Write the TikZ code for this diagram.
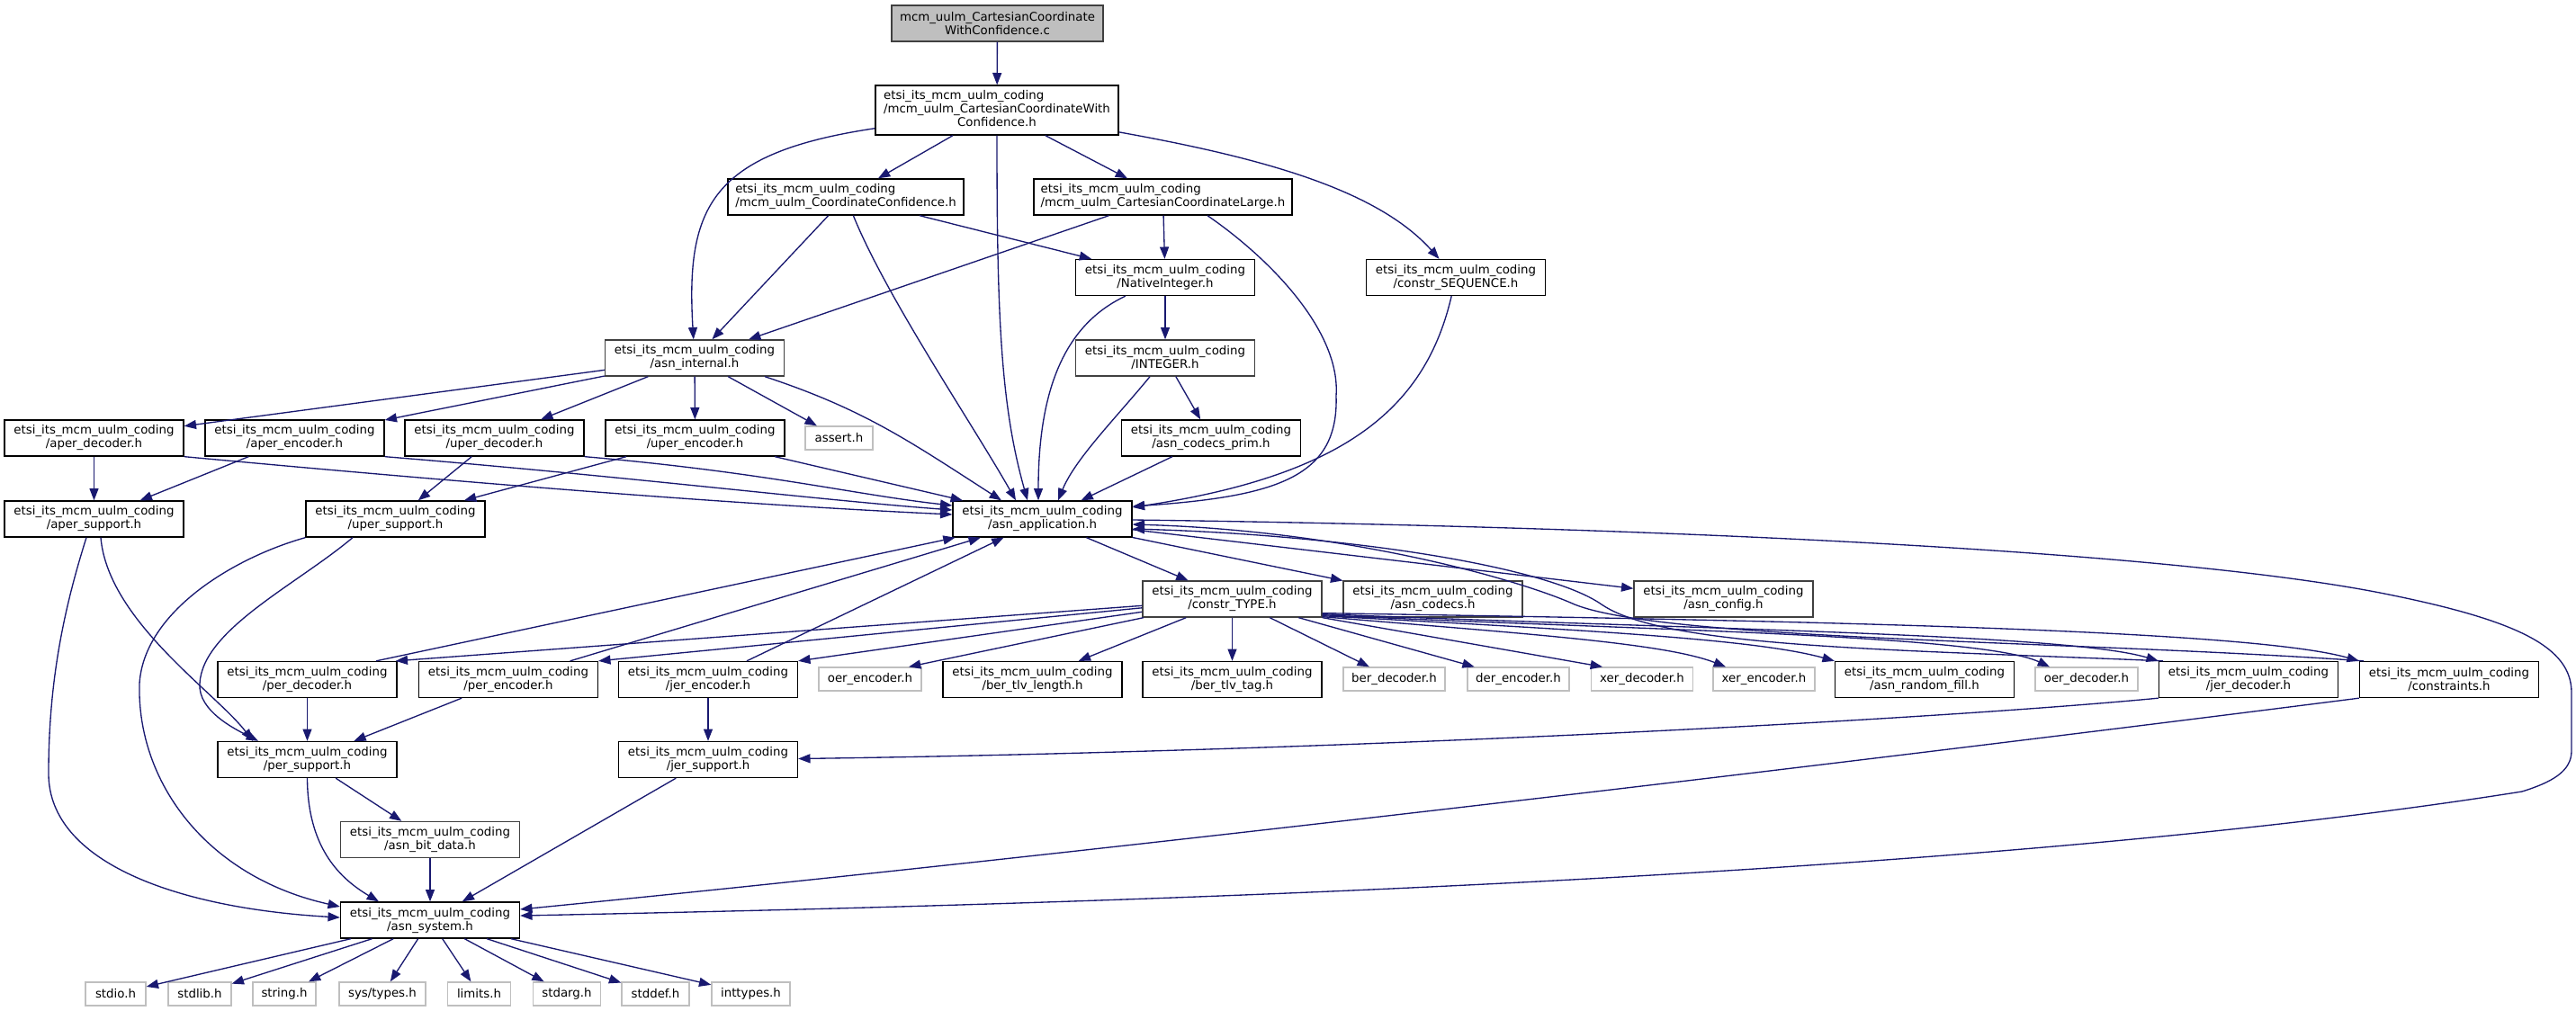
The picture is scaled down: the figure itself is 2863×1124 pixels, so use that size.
\documentclass[tikz,border=0pt]{standalone}
\usepackage{fontspec}
\setmainfont{DejaVu Sans}
\usetikzlibrary{arrows.meta}
\definecolor{edgeblue}{HTML}{191970}
\definecolor{greyL}{HTML}{BFBFBF}
\definecolor{greyD}{HTML}{404040}
\newcommand\nodefont{\fontsize{10}{11.25}\selectfont}
\newcommand\E{etsi\_its\_mcm\_uulm\_coding}
\tikzset{
  boxbase/.style={draw=black, fill=white, line width=1pt, inner sep=0pt, font=\nodefont,
    minimum height=30pt, minimum width=149.25pt},
  box/.style={boxbase, align=center},
  boxl/.style={boxbase, align=left},
  ext/.style={draw=greyL, fill=white, line width=1pt, inner sep=0pt, font=\nodefont,
    minimum height=19.5pt, minimum width=#1*0.75pt},
  e/.style={draw=edgeblue, line width=1pt, -{Triangle[length=10pt,width=7.5pt]}}
}
\begin{document}
\begin{tikzpicture}[x=0.75pt, y=-0.75pt]
\fill[white] (0,0) rectangle (2863,1124);
\useasboundingbox (0,0) rectangle (2863,1124);

% ---------- nodes ----------
\node[box, fill=greyL, draw=greyD, minimum width=176.25pt] (c) at (1108.5,26) {mcm\_uulm\_CartesianCoordinate\\WithConfidence.c};
\node[boxbase, minimum width=202.5pt, minimum height=41.25pt] (ccwc) at (1108,122.5)
  {\begin{tabular}{@{}l@{}}\E\\/mcm\_uulm\_CartesianCoordinateWith\\\multicolumn{1}{@{}c@{}}{Confidence.h}\end{tabular}};
\node[boxl, minimum width=196.5pt] (cconf) at (940,219) {\E\\/mcm\_uulm\_CoordinateConfidence.h};
\node[boxl, minimum width=215.25pt] (ccl) at (1292.5,219) {\E\\/mcm\_uulm\_CartesianCoordinateLarge.h};
\node[box] (nint) at (1295,308.5) {\E\\/NativeInteger.h};
\node[box] (cseq) at (1618,308.5) {\E\\/constr\_SEQUENCE.h};
\node[box, draw=greyD] (integer) at (1295,398) {\E\\/INTEGER.h};
\node[box, draw=greyD] (internal) at (772,398) {\E\\/asn\_internal.h};

\node[box] (aperdec) at (104.5,487) {\E\\/aper\_decoder.h};
\node[box] (aperenc) at (327.5,487) {\E\\/aper\_encoder.h};
\node[box] (uperdec) at (549.5,487) {\E\\/uper\_decoder.h};
\node[box] (uperenc) at (772.5,487) {\E\\/uper\_encoder.h};
\node[ext=75] (assert) at (932.5,487) {assert.h};
\node[box] (prim) at (1346,487) {\E\\/asn\_codecs\_prim.h};

\node[box] (apersup) at (104.5,577) {\E\\/aper\_support.h};
\node[box] (upersup) at (439.5,577) {\E\\/uper\_support.h};
\node[box] (app) at (1158.5,577) {\E\\/asn\_application.h};

\node[box, draw=greyD] (ctype) at (1369.5,666) {\E\\/constr\_TYPE.h};
\node[box, draw=greyD] (codecs) at (1592.5,666) {\E\\/asn\_codecs.h};
\node[box, draw=greyD] (config) at (1915.5,666) {\E\\/asn\_config.h};

\node[box] (perdec) at (341.5,755.5) {\E\\/per\_decoder.h};
\node[box] (perenc) at (565,755.5) {\E\\/per\_encoder.h};
\node[box] (jerenc) at (787,755.5) {\E\\/jer\_encoder.h};
\node[ext=114] (oerenc) at (967,755) {oer\_encoder.h};
\node[box] (bertlvlen) at (1147.5,755.5) {\E\\/ber\_tlv\_length.h};
\node[box] (bertlvtag) at (1369.5,755.5) {\E\\/ber\_tlv\_tag.h};
\node[ext=113] (berdec) at (1549.5,755) {ber\_decoder.h};
\node[ext=113] (derenc) at (1687.5,755) {der\_encoder.h};
\node[ext=113] (xerdec) at (1825,755) {xer\_decoder.h};
\node[ext=113] (xerenc) at (1960.5,755) {xer\_encoder.h};
\node[box] (randfill) at (2139,755.5) {\E\\/asn\_random\_fill.h};
\node[ext=114] (oerdec) at (2319,755) {oer\_decoder.h};
\node[box] (jerdec) at (2499,755.5) {\E\\/jer\_decoder.h};
\node[box] (constraints) at (2722,755.5) {\E\\/constraints.h};

\node[box] (persup) at (341.5,844.5) {\E\\/per\_support.h};
\node[box] (jersup) at (787,844.5) {\E\\/jer\_support.h};
\node[box, draw=greyD] (bitdata) at (478,933.5) {\E\\/asn\_bit\_data.h};
\node[box] (system) at (478,1023) {\E\\/asn\_system.h};

\node[ext=67] (stdio) at (128.5,1105) {stdio.h};
\node[ext=70] (stdlib) at (222,1105) {stdlib.h};
\node[ext=70] (string) at (316,1105) {string.h};
\node[ext=96] (systypes) at (425,1105) {sys/types.h};
\node[ext=70] (limits) at (532.5,1105) {limits.h};
\node[ext=75] (stdarg) at (630,1105) {stdarg.h};
\node[ext=75] (stddef) at (728.5,1105) {stddef.h};
\node[ext=87] (inttypes) at (834.5,1105) {inttypes.h};

% ---------- edges ----------
\draw[e] (c) -- (ccwc);
\draw[e] (ccwc) .. controls (790,170) and (762,230) .. (internal);
\draw[e] (ccwc) -- (cconf);
\draw[e] (ccwc.south) .. controls (1108,350) and (1112,450) .. ([shift={(-16.5,0)}]app.north);
\draw[e] (ccwc) -- (ccl);
\draw[e] (ccwc) .. controls (1400,175) and (1530,210) .. (cseq);

\draw[e] (cconf) -- (internal);
\draw[e] (cconf) .. controls (985,330) and (1080,470) .. ([shift={(-29.5,0)}]app.north);
\draw[e] (cconf) -- (nint);

\draw[e] (ccl) -- (internal);
\draw[e] (ccl) -- (nint);
\draw[e] ([shift={(49.5,0)}]ccl.south) .. controls (1415,290) and (1490,370) .. (1485,440)
   .. controls (1488,530) and (1420,552) .. ([shift={(0,-14)}]app.east);

\draw[e] (nint) .. controls (1185,360) and (1154,430) .. ([shift={(-4.5,0)}]app.north);
\draw[e] (nint) -- (integer);
\draw[e] (cseq) .. controls (1585,450) and (1500,528) .. ([shift={(0,-13)}]app.east);
\draw[e] (integer) .. controls (1240,465) and (1195,510) .. ([shift={(17.5,0)}]app.north);
\draw[e] (integer) -- (prim);
\draw[e] (prim) -- (app);

\draw[e] (internal) -- (aperdec);
\draw[e] (internal) -- (aperenc);
\draw[e] (internal) -- (uperdec);
\draw[e] (internal) -- (uperenc);
\draw[e] (internal) -- (assert);
\draw[e] ([shift={(78,0)}]internal.south) .. controls (960,455) and (1010,490) .. ([shift={(-45.5,0)}]app.north);

\draw[e] (aperdec) -- (apersup);
\draw[e] (aperdec.south east) .. controls (500,535) and (800,560) .. ([shift={(0,-5)}]app.west);
\draw[e] (aperenc) -- (apersup);
\draw[e] (aperenc.south east) .. controls (700,530) and (900,555) .. ([shift={(0,-10)}]app.west);
\draw[e] (uperdec) -- (upersup);
\draw[e] (uperdec.south east) .. controls (850,525) and (950,550) .. ([shift={(0,-15)}]app.west);
\draw[e] (uperenc) -- (upersup);
\draw[e] (uperenc) -- (app);

\draw[e] ([shift={(7.5,0)}]apersup.south) .. controls (120,690) and (240,770) .. ([shift={(-60.5,0)}]persup.north);
\draw[e] ([shift={(-8.5,0)}]apersup.south) .. controls (70,680) and (54,760) .. (54,860)
   .. controls (54,960) and (200,1010) .. ([shift={(0,-3)}]system.west);
\draw[e] ([shift={(-47.5,0)}]upersup.south) .. controls (330,650) and (225,700) .. (222,760)
   .. controls (220,790) and (260,810) .. ([shift={(-54.5,0)}]persup.north);
\draw[e] (upersup.south west) .. controls (260,620) and (160,680) .. (155,760)
   .. controls (152,870) and (230,975) .. ([shift={(0,-15)}]system.west);

\draw[e] (app) -- (ctype);
\draw[e] (app) -- (codecs);
\draw[e] (app) -- (config);
\draw[e] ([shift={(0,1)}]app.east) .. controls (1800,585) and (2400,610) .. (2650,660)
   .. controls (2800,690) and (2858,720) .. (2858,770) -- (2858,835)
   .. controls (2858,858) and (2835,870) .. (2803,880)
   .. controls (2300,960) and (1500,1000) .. ([shift={(0,-5)}]system.east);

\draw[e] (ctype) -- ([shift={(-2,0)}]perdec.north east);
\draw[e] (ctype) -- (perenc.north east);
\draw[e] (ctype) -- (jerenc.north east);
\draw[e] (ctype) -- ([shift={(43,0)}]oerenc.north);
\draw[e] (ctype) -- (bertlvlen);
\draw[e] (ctype) -- (bertlvtag);
\draw[e] (ctype) -- (berdec);
\draw[e] (ctype) -- (derenc);
\draw[e] (ctype.south east) -- ([shift={(-44,0)}]xerdec.north);
\draw[e] ([shift={(0,-1)}]ctype.south east) .. controls (1700,705) and (1850,715) .. ([shift={(-42.5,0)}]xerenc.north);
\draw[e] ([shift={(0,-2)}]ctype.south east) .. controls (1750,700) and (1950,710) .. (randfill.north west);
\draw[e] ([shift={(0,-3)}]ctype.south east) .. controls (1800,700) and (2200,705) .. ([shift={(-41,0)}]oerdec.north);
\draw[e] ([shift={(0,-4)}]ctype.south east) .. controls (1900,700) and (2300,705) .. (jerdec.north west);
\draw[e] ([shift={(0,-5)}]ctype.south east) .. controls (2000,690) and (2500,700) .. (constraints.north west);

\draw[e] ([shift={(-95,0)}]jerdec.north) .. controls (2100,722) and (1850,720) .. (1780,672)
   .. controls (1720,630) and (1500,595) .. ([shift={(0,11)}]app.east);
\draw[e] ([shift={(-95,0)}]constraints.north) .. controls (2300,712) and (1850,712) .. (1750,672)
   .. controls (1690,645) and (1500,590) .. ([shift={(0,6)}]app.east);
\draw[e] (jerdec.south west) .. controls (2150,800) and (1500,835) .. ([shift={(0,-1)}]jersup.east);
\draw[e] (constraints.south west) .. controls (2200,830) and (1300,940) .. ([shift={(0,-12)}]system.east);

\draw[e] ([shift={(76.5,0)}]perdec.north) -- (app);
\draw[e] (perenc) -- (app);
\draw[e] (jerenc) -- (app);
\draw[e] (perdec) -- (persup);
\draw[e] (perenc) -- (persup);
\draw[e] (jerenc) -- (jersup);

\draw[e] (jersup) -- (system);
\draw[e] (persup.south) .. controls (342,940) and (375,975) .. ([shift={(-57,0)}]system.north);
\draw[e] (persup) -- (bitdata);
\draw[e] (bitdata) -- (system);

\draw[e] (system) -- (stdio);
\draw[e] (system) -- (stdlib);
\draw[e] (system) -- (string);
\draw[e] (system) -- (systypes);
\draw[e] (system) -- (limits);
\draw[e] (system) -- (stdarg);
\draw[e] (system) -- (stddef);
\draw[e] (system) -- (inttypes);
\end{tikzpicture}
\end{document}
